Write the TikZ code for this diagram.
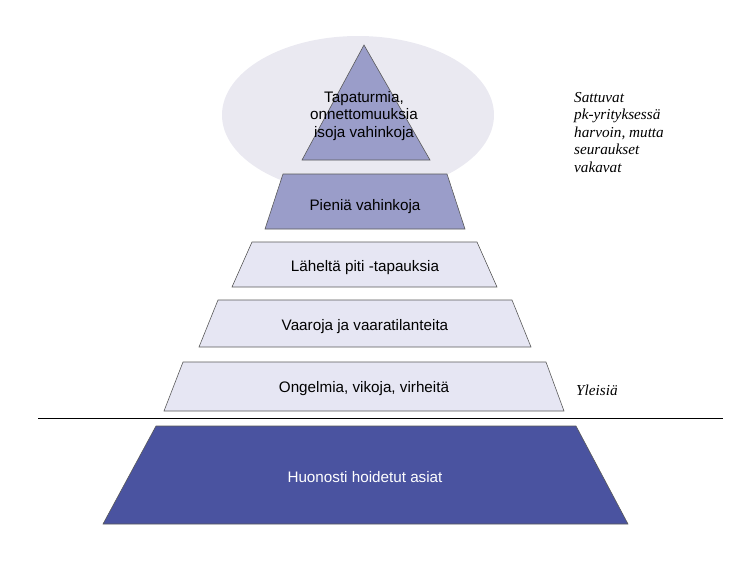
\documentclass[tikz,border=0pt]{standalone}
\usepackage{fontspec}
\setmainfont{Liberation Sans}
\newfontfamily\seriffont{Liberation Serif}
\usetikzlibrary{positioning}
\definecolor{haze}{HTML}{EAE9F1}
\definecolor{midblue}{HTML}{9A9DC9}
\definecolor{paleblue}{HTML}{E6E6F3}
\definecolor{deepblue}{HTML}{4A53A0}
\tikzset{
  layer/.style={draw=gray!70!black, line width=0.5pt},
  label/.style={font=\fontsize{13}{15}\selectfont, align=center},
  side/.style={font=\seriffont\itshape\fontsize{13}{15}\selectfont, align=left, anchor=north west}
}
\begin{document}
\begin{tikzpicture}[x=0.03cm,y=-0.03cm]
\useasboundingbox (0,0) rectangle (747,579);

% glow behind the top
\fill[haze] (358,115) ellipse [x radius=136, y radius=79];

% layers, top to bottom
\draw[layer, fill=midblue] (364,45) -- (430,160) -- (302,160) -- cycle;
\draw[layer, fill=midblue] (283,174) -- (447,174) -- (465,229) -- (265,229) -- cycle;
\draw[layer, fill=paleblue] (252,242) -- (477,242) -- (497,287) -- (232,287) -- cycle;
\draw[layer, fill=paleblue] (218,300) -- (512,300) -- (531,347) -- (199,347) -- cycle;
\draw[layer, fill=paleblue] (183,362) -- (546,362) -- (564,411) -- (164,411) -- cycle;
\draw[black, line width=0.6pt] (38,418) -- (723,418);
\draw[layer, fill=deepblue] (156,426) -- (576,426) -- (628,524) -- (103,524) -- cycle;

\node[label] (tapat) at (364,116) {Tapaturmia,\\onnettomuuksia\\isoja vahinkoja};
\node[label] (pieni) at (365,207) {Pieniä vahinkoja};
\node[label] (lahel) at (365,268) {Läheltä piti -tapauksia};
\node[label] (vaara) at (365,327) {Vaaroja ja vaaratilanteita};
\node[label] (ongel) at (364,389) {Ongelmia, vikoja, virheitä};
\node[label, text=white] (huono) at (365,477) {Huonosti hoidetut asiat};

\node[side] (harv) at (570,88) {Sattuvat\\pk-yrityksessä\\harvoin, mutta\\seuraukset\\vakavat};
\node[side] (yleis) at (572,381) {Yleisiä};
\end{tikzpicture}
\end{document}
